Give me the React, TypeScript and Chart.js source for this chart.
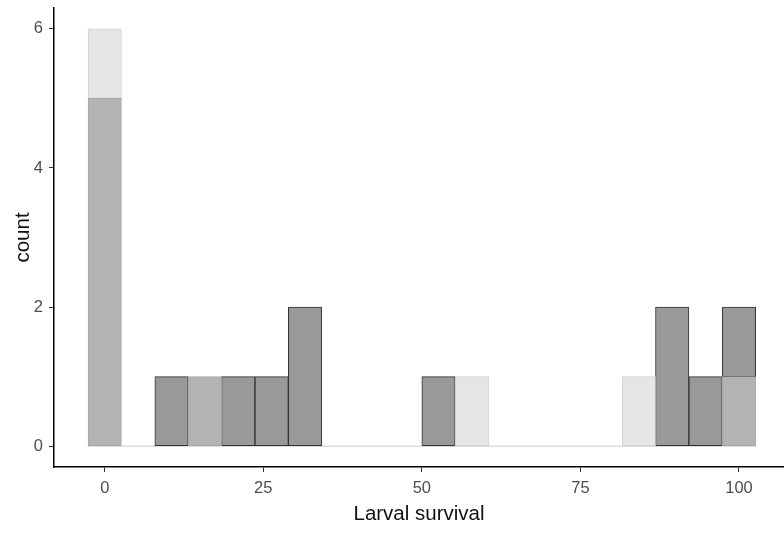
import React, { useEffect, useRef } from "react";
import { Chart, registerables } from "chart.js";

Chart.register(...registerables);

// Histogram bin centres (Larval survival)
const binCenters = [0, 5.26, 10.53, 15.79, 21.05, 26.32, 31.58, 36.84, 42.11, 47.37, 52.63, 57.89, 63.16, 68.42, 73.68, 78.95, 84.21, 89.47, 94.74, 100];
const binWidth = 5.26;
// counts per group (stacked)
const mediumCounts = [5, 0, 0, 1, 0, 0, 0, 0, 0, 0, 0, 0, 0, 0, 0, 0, 0, 0, 0, 1];
const lightCounts = [1, 0, 0, 0, 0, 0, 0, 0, 0, 0, 0, 1, 0, 0, 0, 0, 1, 0, 0, 0];
const darkCounts = [0, 0, 1, 0, 1, 1, 2, 0, 0, 0, 1, 0, 0, 0, 0, 0, 0, 2, 1, 1];

const xTicks = [0, 25, 50, 75, 100];
const yTicks = [0, 2, 4, 6];
const xLimits = [-8.0, 107.1];
const yLimits = [-0.3, 6.3];

const FONT = "'Liberation Sans', Arial, sans-serif";

function toPoints(counts: number[]) {
  return binCenters.map((x, i) => ({ x, y: counts[i] === 0 ? null : counts[i] }));
}

export default function App() {
  const ref = useRef<HTMLCanvasElement | null>(null);

  useEffect(() => {
    document.body.style.margin = "0";
    const canvas = ref.current;
    if (!canvas) return;
    const first = binCenters[0] - binWidth / 2;
    const last = binCenters[binCenters.length - 1] + binWidth / 2;
    const chart = new Chart(canvas, {
      type: "bar",
      data: {
        datasets: [
          {
            type: "line",
            data: [
              { x: first, y: 0 },
              { x: last, y: 0 },
            ],
            borderColor: "#c8c8c8",
            borderWidth: 1,
            pointRadius: 0,
            order: 10,
          } as any,
          {
            label: "medium",
            data: toPoints(mediumCounts),
            backgroundColor: "#b3b3b3",
            borderColor: "#a8a8a8",
            borderWidth: 1,
            borderSkipped: false,
            barPercentage: 1,
            categoryPercentage: 1,
            order: 1,
          },
          {
            label: "light",
            data: toPoints(lightCounts),
            backgroundColor: "#e5e5e5",
            borderColor: "#d2d2d2",
            borderWidth: 1,
            borderSkipped: false,
            barPercentage: 1,
            categoryPercentage: 1,
            order: 1,
          },
          {
            label: "dark",
            data: toPoints(darkCounts),
            backgroundColor: "#999999",
            borderColor: "#333333",
            borderWidth: 1,
            borderSkipped: false,
            barPercentage: 1,
            categoryPercentage: 1,
            order: 1,
          },
        ],
      },
      options: {
        animation: false,
        responsive: false,
        layout: { padding: { top: 8, right: 0, bottom: 0, left: 0 } },
        plugins: { legend: { display: false }, tooltip: { enabled: false } },
        scales: {
          x: {
            type: "linear",
            stacked: true,
            offset: false,
            min: xLimits[0],
            max: xLimits[1],
            afterBuildTicks: (s: any) => {
              s.ticks = xTicks.map((v) => ({ value: v }));
            },
            afterFit: (s: any) => {
              s.height = 66;
              s.paddingLeft = 0;
              s.paddingRight = 0;
            },
            ticks: {
              color: "#4d4d4d",
              font: { family: FONT, size: 16.5 },
              padding: 7,
              maxRotation: 0,
              autoSkip: false,
            },
            grid: {
              display: true,
              offset: false,
              drawOnChartArea: false,
              drawTicks: true,
              tickLength: 5,
              color: "#333333",
              tickWidth: 1,
            },
            border: { display: true, color: "#000000", width: 1.5 },
            title: {
              display: true,
              text: "Larval survival",
              color: "#111111",
              font: { family: FONT, size: 20.5 },
              padding: { top: 0, bottom: 6 },
            },
          },
          y: {
            stacked: true,
            min: yLimits[0],
            max: yLimits[1],
            afterBuildTicks: (s: any) => {
              s.ticks = yTicks.map((v) => ({ value: v }));
            },
            afterFit: (s: any) => {
              s.width = 54;
              s.paddingTop = 0;
              s.paddingBottom = 0;
            },
            ticks: {
              color: "#4d4d4d",
              font: { family: FONT, size: 16.5 },
              padding: 6,
              autoSkip: false,
            },
            grid: {
              display: true,
              drawOnChartArea: false,
              drawTicks: true,
              tickLength: 5,
              color: "#333333",
              tickWidth: 1,
            },
            border: { display: true, color: "#000000", width: 1.5 },
            title: {
              display: true,
              text: "count",
              color: "#111111",
              font: { family: FONT, size: 20.5 },
              padding: { top: 11, bottom: 0 },
            },
          },
        },
      },
    });
    return () => chart.destroy();
  }, []);

  return (
    <div style={{ width: 784, height: 533 }}>
      <canvas ref={ref} width={784} height={533} />
    </div>
  );
}
